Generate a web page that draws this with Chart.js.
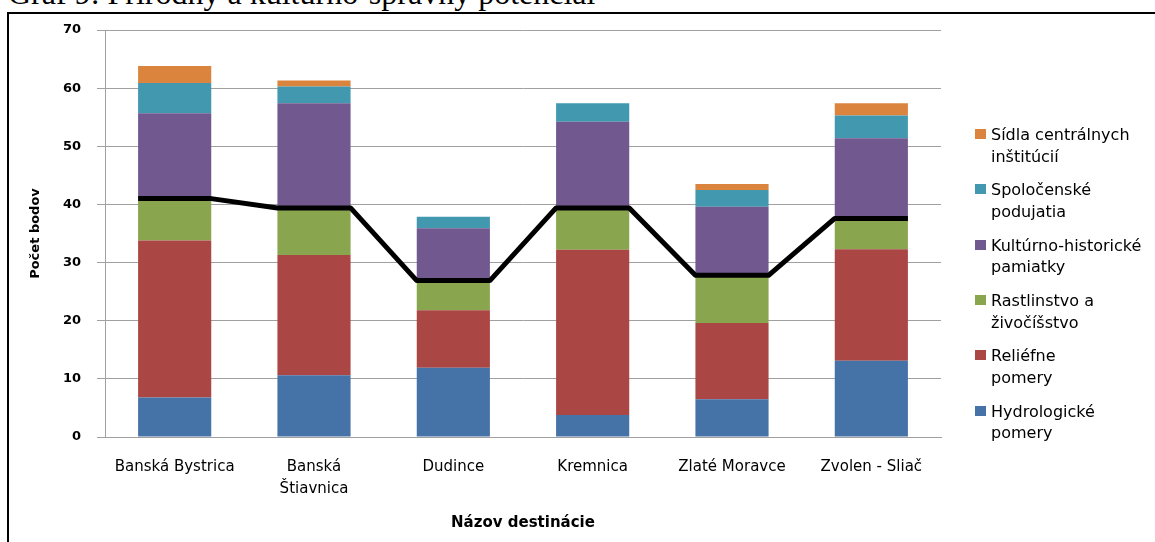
<!DOCTYPE html>
<html>
<head>
<meta charset="utf-8">
<script src="https://cdn.jsdelivr.net/npm/chart.js@4/dist/chart.umd.min.js"></script>
<style>
  body { margin: 0; width: 1155px; height: 542px; overflow: hidden; background: #fff; position: relative; }
  #title { position: absolute; left: 8px; top: -23px; font: 32px "Liberation Serif"; line-height: 1; white-space: nowrap; color: #000; }
  #frame { position: absolute; left: 7px; top: 12px; width: 1200px; height: 600px; border: 2px solid #000; background: #fff; }
  #wrap { position: absolute; left: 0; top: 0; width: 1155px; height: 542px; }
  #legend { position: absolute; left: 0; top: 0; font: 16px "DejaVu Sans"; color: #000; }
  .item { position: absolute; left: 975px; white-space: pre-line; line-height: 21.7px; }
  .sw { position: absolute; left: 0; top: 5px; width: 11px; height: 10px; }
  .txt { position: absolute; left: 16px; top: 0; width: 180px; }
</style>
</head>
<body>
<div id="title">Graf 9: Prírodný a kultúrno-správny potenciál</div>
<div id="frame"></div>
<div id="wrap"><canvas id="chart" width="1155" height="542"></canvas></div>
<div id="legend"></div>
<script>
const categories = ['Banská Bystrica', ['Banská', 'Štiavnica'], 'Dudince', 'Kremnica', 'Zlaté Moravce', 'Zvolen - Sliač'];

const hydro  = [6.8, 10.6, 11.9, 3.8, 6.5, 13.1];
const relief = [27.0, 20.7, 9.9, 28.4, 13.1, 19.2];
const rastl  = [7.3, 8.1, 5.0, 7.2, 8.3, 5.0];
const kult   = [14.6, 18.0, 9.1, 14.8, 11.7, 14.1];
const spol   = [5.2, 2.9, 2.0, 3.2, 2.9, 3.9];
const sidla  = [2.9, 1.0, 0, 0, 1.0, 2.1];
const naturalLine = [41.0, 39.4, 26.9, 39.4, 27.8, 37.6];

const seriesNames = ['Hydrologické\npomery', 'Reliéfne\npomery', 'Rastlinstvo a\nživočíšstvo',
  'Kultúrno-historické\npamiatky', 'Spoločenské\npodujatia', 'Sídla centrálnych\ninštitúcií'];
const seriesValues = [hydro, relief, rastl, kult, spol, sidla];
const seriesColors = ['#4572A7', '#AA4643', '#89A54E', '#71588F', '#4198AF', '#DB843D'];
const yTicks = [0, 10, 20, 30, 40, 50, 60, 70];

const barPct = 0.525;
const half = barPct / 2;

const datasets = seriesValues.map((vals, i) => ({
  type: 'bar',
  label: seriesNames[i],
  data: vals,
  backgroundColor: seriesColors[i],
  borderWidth: 0,
  grouped: false,
  categoryPercentage: 1,
  barPercentage: barPct,
  order: 1
}));

// black line across the top of the natural part, flat over each bar
datasets.push({
  type: 'line',
  label: 'line',
  xAxisID: 'xl',
  data: naturalLine.flatMap((v, i) => [{ x: i - half, y: v }, { x: i + half, y: v }]),
  borderColor: '#000',
  borderWidth: 5,
  pointRadius: 0,
  tension: 0,
  borderJoinStyle: 'round',
  order: 0
});

new Chart(document.getElementById('chart'), {
  data: { labels: categories, datasets },
  options: {
    responsive: false,
    animation: false,
    layout: { padding: { left: 0, top: 30, right: 214, bottom: 0 } },
    plugins: { legend: { display: false }, tooltip: { enabled: false } },
    scales: {
      x: {
        stacked: true,
        grid: { display: false, drawTicks: false },
        border: { color: '#a0a0a0' },
        ticks: { color: '#000', font: { family: 'DejaVu Sans', size: 15, lineHeight: 1.45 }, padding: 19, maxRotation: 0, autoSkip: false },
        title: { display: true, text: 'Názov destinácie', color: '#000', font: { family: 'DejaVu Sans', size: 15, weight: 'bold' }, padding: { top: 0, bottom: 10 } },
        afterFit: s => { s.height = 105; }
      },
      xl: {
        type: 'linear',
        display: false,
        min: -0.5,
        max: categories.length - 0.5
      },
      y: {
        stacked: true,
        min: yTicks[0],
        max: yTicks[yTicks.length - 1],
        afterBuildTicks: s => { s.ticks = yTicks.map(v => ({ value: v })); },
        grid: { color: '#a0a0a0', tickLength: 8 },
        border: { color: '#a0a0a0' },
        ticks: { color: '#000', font: { family: 'DejaVu Sans', size: 13, weight: 'bold' }, padding: 16 },
        title: { display: true, text: 'Počet bodov', color: '#000', font: { family: 'DejaVu Sans', size: 13, weight: 'bold' }, padding: { top: 28, bottom: 0 } },
        afterFit: s => { s.width = 105; }
      }
    }
  }
});

// legend, reversed like the source (top = last series)
const legend = document.getElementById('legend');
const order = seriesNames.map((_, i) => i).reverse();
order.forEach((idx, k) => {
  const item = document.createElement('div');
  item.className = 'item';
  item.style.top = (124 + k * 55.3) + 'px';
  item.innerHTML = '<div class="sw" style="background:' + seriesColors[idx] + '"></div><div class="txt"></div>';
  item.querySelector('.txt').textContent = seriesNames[idx];
  legend.appendChild(item);
});
</script>
</body>
</html>
